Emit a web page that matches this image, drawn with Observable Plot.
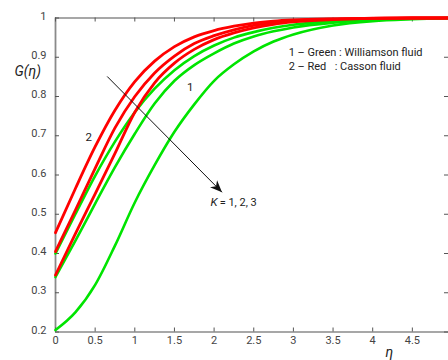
<!DOCTYPE html>
<html>
<head>
<meta charset="utf-8">
<script src="https://cdn.jsdelivr.net/npm/d3@7"></script>
<script src="https://cdn.jsdelivr.net/npm/@observablehq/plot@0.6"></script>
<style>
  html, body { margin: 0; padding: 0; background: #fff; }
  #chart { width: 448px; height: 360px; overflow: hidden; }
</style>
</head>
<body>
<div id="chart"></div>
<script>
// ---- data ----
const eta = [0, 0.25, 0.5, 0.75, 1, 1.25, 1.5, 1.75, 2, 2.25, 2.5, 2.75, 3, 3.5, 4, 4.5, 5];

// Williamson fluid (green), K = 1, 2, 3
const greenK1 = [0.40, 0.50, 0.598, 0.685, 0.76, 0.82, 0.867, 0.903, 0.93, 0.95, 0.964, 0.975, 0.983, 0.992, 0.997, 0.999, 1];
const greenK2 = [0.34, 0.432, 0.527, 0.62, 0.705, 0.782, 0.84, 0.88, 0.91, 0.935, 0.953, 0.966, 0.976, 0.988, 0.995, 0.998, 1];
const greenK3 = [0.205, 0.25, 0.32, 0.42, 0.53, 0.625, 0.71, 0.78, 0.84, 0.882, 0.915, 0.94, 0.958, 0.981, 0.992, 0.997, 1];

// Casson fluid (red), K = 1, 2, 3
const redK1 = [0.453, 0.565, 0.672, 0.765, 0.838, 0.89, 0.927, 0.952, 0.968, 0.979, 0.987, 0.992, 0.995, 0.998, 0.9995, 1, 1];
const redK2 = [0.405, 0.51, 0.617, 0.72, 0.80, 0.86, 0.903, 0.935, 0.955, 0.97, 0.981, 0.988, 0.993, 0.997, 0.999, 1, 1];
const redK3 = [0.345, 0.45, 0.552, 0.655, 0.76, 0.835, 0.885, 0.92, 0.945, 0.962, 0.975, 0.984, 0.99, 0.996, 0.999, 1, 1];

const xTicks = [0, 0.5, 1, 1.5, 2, 2.5, 3, 3.5, 4, 4.5];
const yTicks = [0.2, 0.3, 0.4, 0.5, 0.6, 0.7, 0.8, 0.9, 1];

// ---- build tables ----
function rowsOf(values, fluid, k) {
  return values.map((g, i) => ({eta: eta[i], G: g, fluid, K: k, series: fluid + k}));
}
const greenRows = [].concat(rowsOf(greenK1, "Williamson", 1), rowsOf(greenK2, "Williamson", 2), rowsOf(greenK3, "Williamson", 3));
const redRows = [].concat(rowsOf(redK1, "Casson", 1), rowsOf(redK2, "Casson", 2), rowsOf(redK3, "Casson", 3));

// ---- annotations (text positions in data units) ----
const curveLabels = [
  {text: "1", x: 1.70, y: 0.824},
  {text: "2", x: 0.42, y: 0.695}
];
const legendLines = [
  {text: "1 – Green : Williamson fluid", x: 2.94, y: 0.912},
  {text: "2 – Red", x: 2.94, y: 0.876},
  {text: ": Casson fluid", x: 3.52, y: 0.876}
];
const kItalic = [{text: "K", x: 1.955, y: 0.53}];
const kRest = [{text: "= 1, 2, 3", x: 2.07, y: 0.53}];
const arrowSpec = [{x1: 0.652, y1: 0.851, x2: 2.10, y2: 0.556}];
const axisTitles = [
  {text: "G(η)", x: -0.35, y: 0.864},
  {text: "η", x: 4.21, y: 0.148}
];

// ---- layout ----
const W = 448, H = 360, mL = 55, mR = 0, mT = 17.5, mB = 28.5;
const plotW = W - mL - mR, plotH = H - mT - mB;
const tickLen = 4;
const axisGray = "#8a8a8a";

// barbed filled arrowhead, tip at origin, pointing up
const barb = {
  draw(context) {
    context.moveTo(0, 0);
    context.lineTo(5, 12);
    context.lineTo(0, 8.5);
    context.lineTo(-5, 12);
    context.closePath();
  }
};

const chart = Plot.plot({
  width: W,
  height: H,
  marginLeft: mL,
  marginRight: mR,
  marginTop: mT,
  marginBottom: mB,
  x: {domain: [0, plotW / 79.3], label: null},
  y: {domain: [0.2, 1], label: null},
  style: {fontFamily: "Roboto, 'Open Sans', sans-serif", fontSize: "11px", background: "#fff", color: "#333"},
  marks: [
    // frame lines
    Plot.ruleY([1], {stroke: axisGray, strokeWidth: 1.3}),
    Plot.ruleY([0.2], {stroke: axisGray, strokeWidth: 1.5}),
    Plot.ruleX([0], {stroke: axisGray, strokeWidth: 1.8}),
    // inward ticks
    Plot.tickY(yTicks, {y: d => d, insetRight: plotW - tickLen, stroke: "#555", strokeWidth: 1}),
    Plot.tickY(yTicks, {y: d => d, insetLeft: plotW - tickLen, stroke: "#555", strokeWidth: 1}),
    Plot.tickX(xTicks, {x: d => d, insetTop: plotH - tickLen, stroke: "#555", strokeWidth: 1}),
    Plot.tickX(xTicks, {x: d => d, insetBottom: plotH - tickLen, stroke: "#555", strokeWidth: 1}),
    // tick labels
    Plot.axisY(yTicks, {tickSize: 0, tickPadding: 9, dy: -2, fill: "#444", fontSize: 11, label: null, tickFormat: d => String(d)}),
    Plot.axisX(xTicks, {tickSize: 0, tickPadding: 4, fill: "#444", fontSize: 11, label: null, tickFormat: d => String(d)}),
    // curves
    Plot.line(greenRows, {x: "eta", y: "G", z: "series", stroke: "#00e400", strokeWidth: 2.6, curve: "monotone-x"}),
    Plot.line(redRows, {x: "eta", y: "G", z: "series", stroke: "#ff0000", strokeWidth: 2.8, curve: "monotone-x"}),
    // arrow
    Plot.link(arrowSpec, {x1: "x1", y1: "y1", x2: "x2", y2: "y2", stroke: "#111", strokeWidth: 1}),
    Plot.dot(arrowSpec, {x: "x2", y: "y2", symbol: barb, r: 5, fill: "#111", stroke: "none", rotate: 135}),
    // annotations
    Plot.text(curveLabels, {x: "x", y: "y", text: "text", fontSize: 11.5, fill: "#222"}),
    Plot.text(legendLines, {x: "x", y: "y", text: "text", textAnchor: "start", fontSize: 11, fill: "#222"}),
    Plot.text(kItalic, {x: "x", y: "y", text: "text", textAnchor: "start", fontSize: 11.5, fontStyle: "italic", fill: "#222"}),
    Plot.text(kRest, {x: "x", y: "y", text: "text", textAnchor: "start", fontSize: 11, fill: "#222"}),
    Plot.text(axisTitles, {x: "x", y: "y", text: "text", fontSize: 14, fontStyle: "italic", fill: "#222"})
  ]
});

document.getElementById("chart").appendChild(chart);
</script>
</body>
</html>
